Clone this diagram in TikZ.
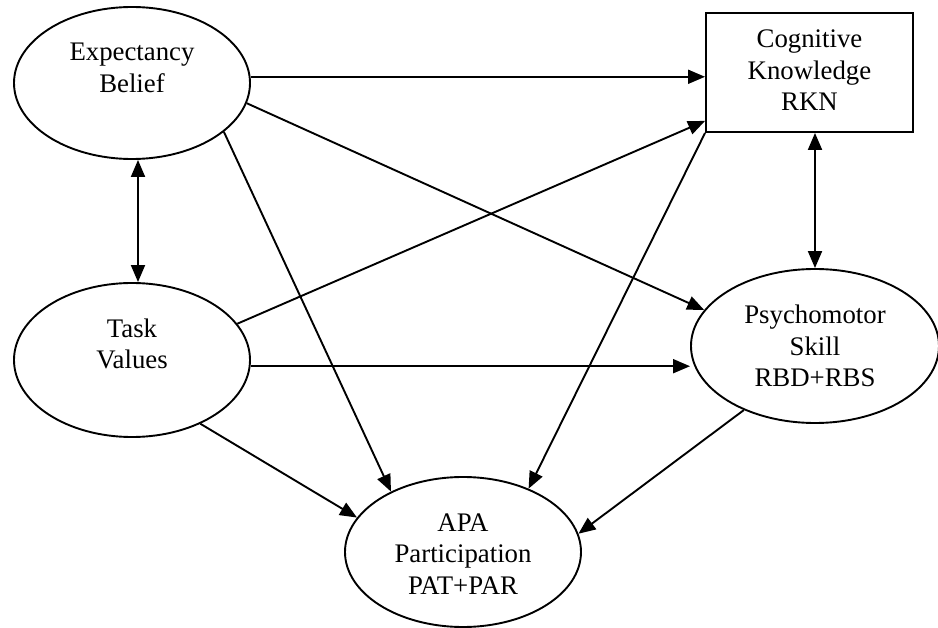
\documentclass[tikz,border=0pt]{standalone}
\usepackage{fontspec}
\setmainfont{Liberation Serif}
\usetikzlibrary{shapes.geometric,arrows.meta}
\begin{document}
\begin{tikzpicture}[x=1pt,y=-1pt,
  oval/.style={draw,line width=1.9pt,ellipse,inner sep=0pt},
  box/.style={draw,line width=1.9pt,rectangle,inner sep=0pt},
  txt/.style={align=center,font=\fontsize{26.8}{31.5}\selectfont,inner sep=0pt},
  arr/.style={line width=1.9pt,-{Triangle[length=17pt,width=14pt]}},
  darr/.style={line width=1.9pt,{Triangle[length=17pt,width=14pt]}-{Triangle[length=17pt,width=14pt]}}]
\useasboundingbox (0,0) rectangle (938,628);
% nodes
\node[oval,minimum width=236pt,minimum height=152pt] (eb) at (132,83) {};
\node[txt] (ebl) at ([yshift=15pt]eb.center) {Expectancy\\Belief};
\node[oval,minimum width=236pt,minimum height=154pt] (tv) at (132,360) {};
\node[txt] (tvl) at ([yshift=16pt]tv.center) {Task\\Values};
\node[box,minimum width=207pt,minimum height=119pt] (rk) at (809.5,72.5) {};
\node[txt] (rkl) at ([yshift=2pt]rk.center) {Cognitive\\Knowledge\\RKN};
\node[oval,minimum width=248pt,minimum height=154pt] (ps) at (815,346) {};
\node[txt] (psl) at (ps.center) {Psychomotor\\Skill\\RBD+RBS};
\node[oval,minimum width=236pt,minimum height=150pt] (apa) at (463,552) {};
\node[txt] (apal) at ([yshift=-2pt]apa.center) {APA\\Participation\\PAT+PAR};
% connectors
\draw[arr] (eb.3) -- (eb.3 -| rk.west);
\draw[arr] (eb.-10.6) -- (ps.162.2);
\draw[arr] (eb.-28.8) -- (apa.140.8);
\draw[darr] ([xshift=6pt]eb.south) -- ([xshift=6pt]tv.north);
\draw[arr] (tv.19.4) -- ([yshift=12pt]rk.south west);
\draw[arr] (tv.-3.4) -- (tv.-3.4 -| ps.west);
\draw[arr] (tv.-43.6) -- (apa.162.1);
\draw[arr] (rk.south west) -- (apa.44.1);
\draw[darr] ([xshift=5.5pt]rk.south) -- (ps.north);
\draw[arr] (ps.-138) -- (apa.9.5);
\end{tikzpicture}
\end{document}
